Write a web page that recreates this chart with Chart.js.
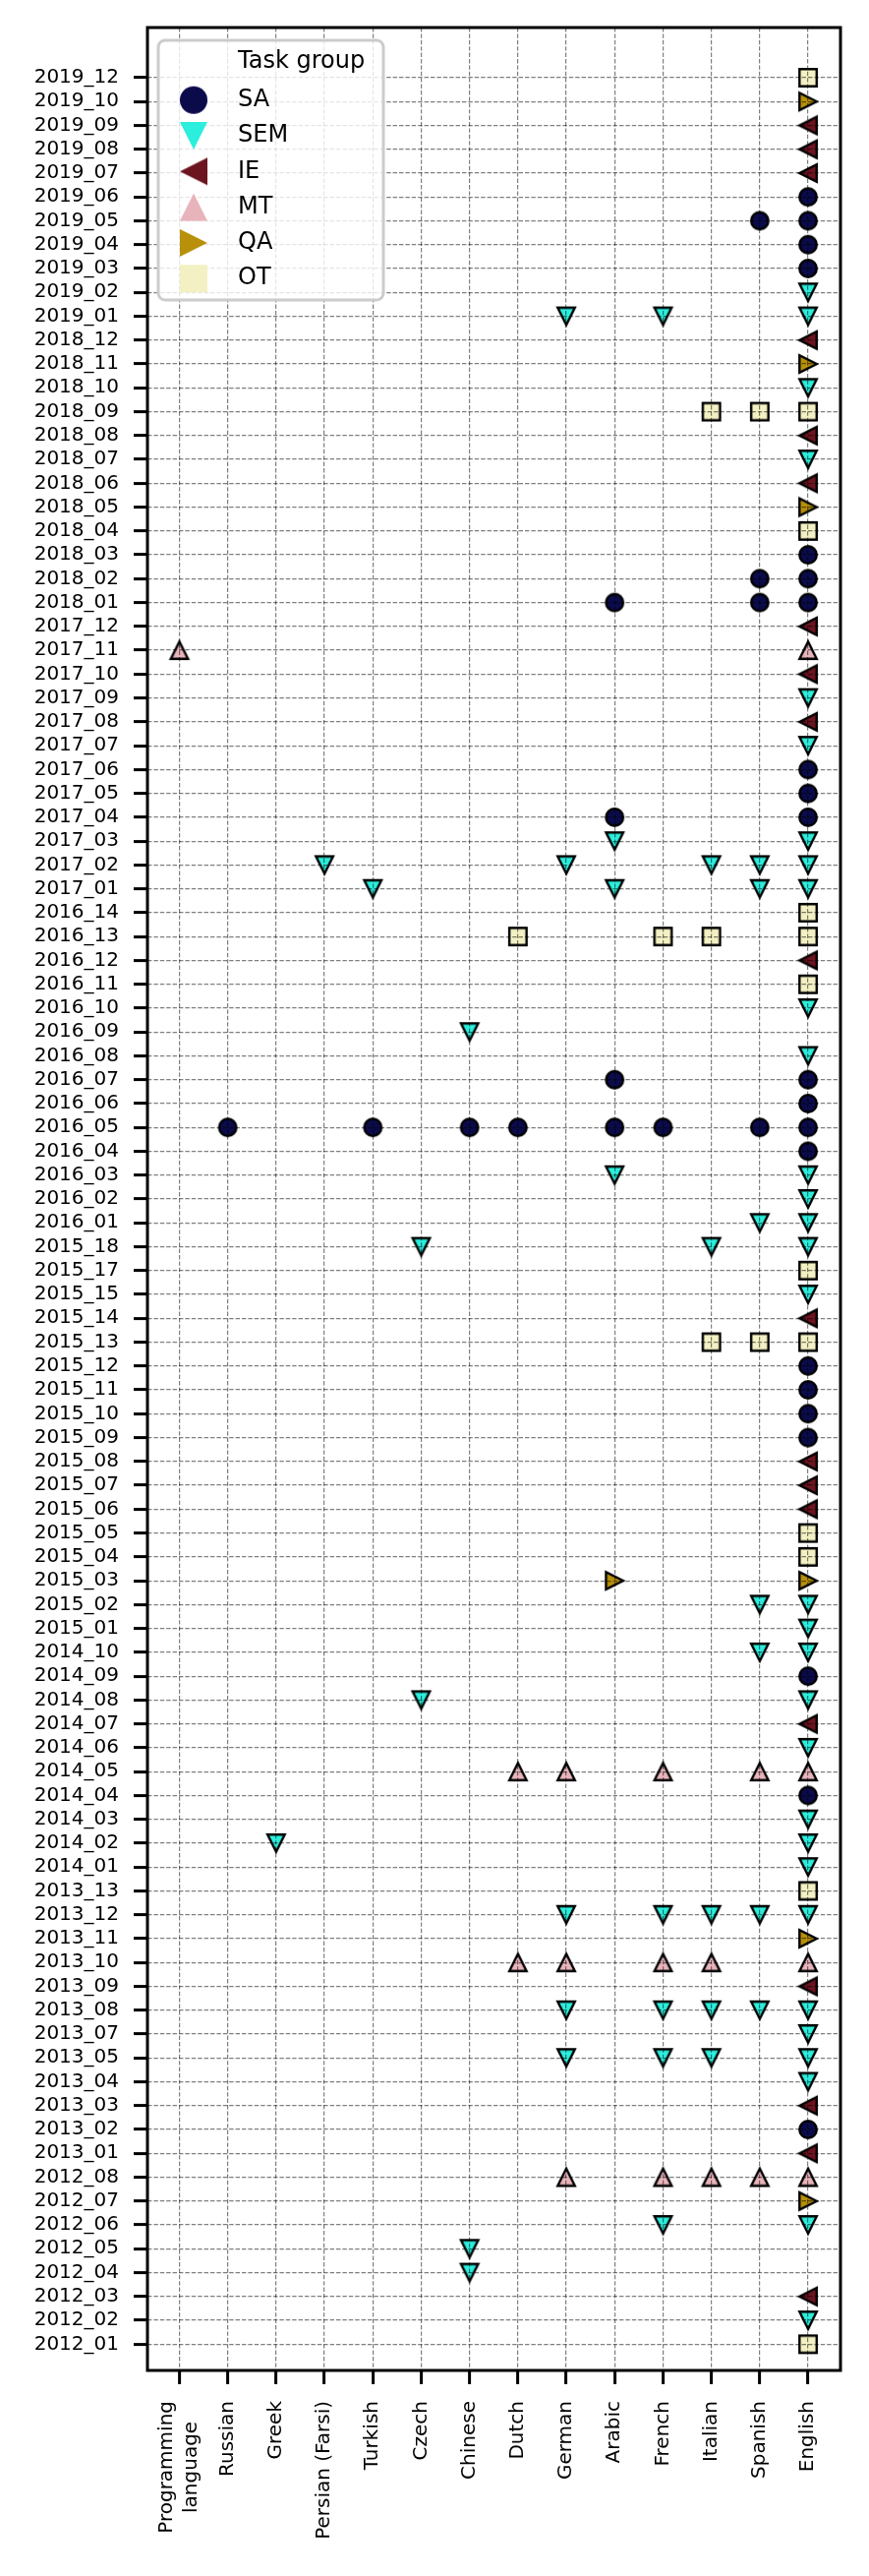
<!DOCTYPE html>
<html>
<head>
<meta charset="utf-8">
<script src="https://cdn.jsdelivr.net/npm/chart.js@4"></script>
<style>
  html, body { margin: 0; padding: 0; background: #fff; }
  #wrap { width: 884px; height: 2619px; position: relative; }
</style>
</head>
<body>
<div id="wrap"><canvas id="myChart"></canvas></div>
<script>
// y categories, listed top to bottom as in the figure
const tasks = [
  '2019_12', '2019_10', '2019_09', '2019_08', '2019_07', '2019_06', '2019_05', '2019_04', '2019_03', '2019_02', '2019_01',
  '2018_12', '2018_11', '2018_10', '2018_09', '2018_08', '2018_07', '2018_06', '2018_05', '2018_04', '2018_03', '2018_02', '2018_01',
  '2017_12', '2017_11', '2017_10', '2017_09', '2017_08', '2017_07', '2017_06', '2017_05', '2017_04', '2017_03', '2017_02', '2017_01',
  '2016_14', '2016_13', '2016_12', '2016_11', '2016_10', '2016_09', '2016_08', '2016_07', '2016_06', '2016_05', '2016_04', '2016_03', '2016_02', '2016_01',
  '2015_18', '2015_17', '2015_15', '2015_14', '2015_13', '2015_12', '2015_11', '2015_10', '2015_09', '2015_08', '2015_07', '2015_06', '2015_05', '2015_04', '2015_03', '2015_02', '2015_01',
  '2014_10', '2014_09', '2014_08', '2014_07', '2014_06', '2014_05', '2014_04', '2014_03', '2014_02', '2014_01',
  '2013_13', '2013_12', '2013_11', '2013_10', '2013_09', '2013_08', '2013_07', '2013_05', '2013_04', '2013_03', '2013_02', '2013_01',
  '2012_08', '2012_07', '2012_06', '2012_05', '2012_04', '2012_03', '2012_02', '2012_01'
];

const languages = ['Programming language', 'Russian', 'Greek', 'Persian (Farsi)', 'Turkish', 'Czech', 'Chinese',
  'Dutch', 'German', 'Arabic', 'French', 'Italian', 'Spanish', 'English'];

const legendTitle = 'Task group';
const groupNames = ['SA', 'SEM', 'IE', 'MT', 'QA', 'OT'];
const groupColors = ['#0b0b4b', '#2ceedd', '#6c1420', '#e8b4bb', '#b8900a', '#f3f1c3'];
const groupShapes = ['circle', 'down', 'left', 'up', 'right', 'square'];

// [task, language] pairs for each task group
const saPoints = [
  ['2019_06', 'English'], ['2019_05', 'Spanish'], ['2019_05', 'English'], ['2019_04', 'English'], ['2019_03', 'English'],
  ['2018_03', 'English'], ['2018_02', 'Spanish'], ['2018_02', 'English'],
  ['2018_01', 'Arabic'], ['2018_01', 'Spanish'], ['2018_01', 'English'],
  ['2017_06', 'English'], ['2017_05', 'English'], ['2017_04', 'Arabic'], ['2017_04', 'English'],
  ['2016_07', 'Arabic'], ['2016_07', 'English'], ['2016_06', 'English'],
  ['2016_05', 'Russian'], ['2016_05', 'Turkish'], ['2016_05', 'Chinese'], ['2016_05', 'Dutch'],
  ['2016_05', 'Arabic'], ['2016_05', 'French'], ['2016_05', 'Spanish'], ['2016_05', 'English'],
  ['2016_04', 'English'], ['2015_12', 'English'], ['2015_11', 'English'], ['2015_10', 'English'], ['2015_09', 'English'],
  ['2014_09', 'English'], ['2014_04', 'English'], ['2013_02', 'English']
];

const semPoints = [
  ['2019_02', 'English'], ['2019_01', 'German'], ['2019_01', 'French'], ['2019_01', 'English'],
  ['2018_10', 'English'], ['2018_07', 'English'], ['2017_09', 'English'], ['2017_07', 'English'],
  ['2017_03', 'Arabic'], ['2017_03', 'English'],
  ['2017_02', 'Persian (Farsi)'], ['2017_02', 'German'], ['2017_02', 'Italian'], ['2017_02', 'Spanish'], ['2017_02', 'English'],
  ['2017_01', 'Turkish'], ['2017_01', 'Arabic'], ['2017_01', 'Spanish'], ['2017_01', 'English'],
  ['2016_10', 'English'], ['2016_09', 'Chinese'], ['2016_08', 'English'],
  ['2016_03', 'Arabic'], ['2016_03', 'English'], ['2016_02', 'English'], ['2016_01', 'Spanish'], ['2016_01', 'English'],
  ['2015_18', 'Czech'], ['2015_18', 'Italian'], ['2015_18', 'English'], ['2015_15', 'English'],
  ['2015_02', 'Spanish'], ['2015_02', 'English'], ['2015_01', 'English'],
  ['2014_10', 'Spanish'], ['2014_10', 'English'], ['2014_08', 'Czech'], ['2014_08', 'English'],
  ['2014_06', 'English'], ['2014_03', 'English'], ['2014_02', 'Greek'], ['2014_02', 'English'], ['2014_01', 'English'],
  ['2013_12', 'German'], ['2013_12', 'French'], ['2013_12', 'Italian'], ['2013_12', 'Spanish'], ['2013_12', 'English'],
  ['2013_08', 'German'], ['2013_08', 'French'], ['2013_08', 'Italian'], ['2013_08', 'Spanish'], ['2013_08', 'English'],
  ['2013_07', 'English'],
  ['2013_05', 'German'], ['2013_05', 'French'], ['2013_05', 'Italian'], ['2013_05', 'English'],
  ['2013_04', 'English'], ['2012_06', 'French'], ['2012_06', 'English'],
  ['2012_05', 'Chinese'], ['2012_04', 'Chinese'], ['2012_02', 'English']
];

const iePoints = [
  ['2019_09', 'English'], ['2019_08', 'English'], ['2019_07', 'English'], ['2018_12', 'English'],
  ['2018_08', 'English'], ['2018_06', 'English'], ['2017_12', 'English'], ['2017_10', 'English'],
  ['2017_08', 'English'], ['2016_12', 'English'], ['2015_14', 'English'], ['2015_08', 'English'],
  ['2015_07', 'English'], ['2015_06', 'English'], ['2014_07', 'English'], ['2013_09', 'English'],
  ['2013_03', 'English'], ['2013_01', 'English'], ['2012_03', 'English']
];

const mtPoints = [
  ['2017_11', 'Programming language'], ['2017_11', 'English'],
  ['2014_05', 'Dutch'], ['2014_05', 'German'], ['2014_05', 'French'], ['2014_05', 'Spanish'], ['2014_05', 'English'],
  ['2013_10', 'Dutch'], ['2013_10', 'German'], ['2013_10', 'French'], ['2013_10', 'Italian'], ['2013_10', 'English'],
  ['2012_08', 'German'], ['2012_08', 'French'], ['2012_08', 'Italian'], ['2012_08', 'Spanish'], ['2012_08', 'English']
];

const qaPoints = [
  ['2019_10', 'English'], ['2018_11', 'English'], ['2018_05', 'English'],
  ['2015_03', 'Arabic'], ['2015_03', 'English'], ['2013_11', 'English'], ['2012_07', 'English']
];

const otPoints = [
  ['2019_12', 'English'], ['2018_09', 'Italian'], ['2018_09', 'Spanish'], ['2018_09', 'English'],
  ['2018_04', 'English'], ['2016_14', 'English'],
  ['2016_13', 'Dutch'], ['2016_13', 'French'], ['2016_13', 'Italian'], ['2016_13', 'English'],
  ['2016_11', 'English'], ['2015_17', 'English'],
  ['2015_13', 'Italian'], ['2015_13', 'Spanish'], ['2015_13', 'English'],
  ['2015_05', 'English'], ['2015_04', 'English'], ['2013_13', 'English'], ['2012_01', 'English']
];

const groupPoints = [saPoints, semPoints, iePoints, mtPoints, qaPoints, otPoints];

// matplotlib-like marker drawn into a small canvas, used as pointStyle
function markerCanvas(shape, size, fill, edge, lw) {
  const pad = Math.ceil(lw * 3) + 2;
  const dim = Math.ceil(size) + 2 * pad;
  const c = document.createElement('canvas');
  c.width = dim;
  c.height = dim;
  const g = c.getContext('2d');
  const m = dim / 2, h = size / 2;
  g.beginPath();
  if (shape === 'circle') {
    g.arc(m, m, h, 0, Math.PI * 2);
  } else if (shape === 'square') {
    g.rect(m - h, m - h, size, size);
  } else {
    const pts = {
      down: [[0, h], [-h, -h], [h, -h]],
      up: [[0, -h], [-h, h], [h, h]],
      left: [[-h, 0], [h, -h], [h, h]],
      right: [[h, 0], [-h, -h], [-h, h]]
    }[shape];
    g.moveTo(m + pts[0][0], m + pts[0][1]);
    g.lineTo(m + pts[1][0], m + pts[1][1]);
    g.lineTo(m + pts[2][0], m + pts[2][1]);
    g.closePath();
  }
  g.fillStyle = fill;
  g.fill();
  if (lw > 0) {
    g.lineWidth = lw;
    g.lineJoin = 'miter';
    g.strokeStyle = edge;
    g.stroke();
  }
  return c;
}

const plotMarkers = groupShapes.map((s, i) => markerCanvas(s, 17.5, groupColors[i], '#000', 2.4));
const legendMarkers = groupShapes.map((s, i) => markerCanvas(s, 28, groupColors[i], '#000', 0));

const yOf = (task) => tasks.length - 1 - tasks.indexOf(task);
const xOf = (lang) => languages.indexOf(lang);

const datasets = groupNames.map((name, i) => ({
  label: name,
  data: groupPoints[i].map(([t, l]) => ({ x: xOf(l), y: yOf(t) })),
  pointStyle: plotMarkers[i],
  pointRadius: 10,
  backgroundColor: groupColors[i],
  borderColor: '#000'
}));

// centre the two-line "Programming / language" tick label on its tick, as matplotlib does
const centerMultiline = {
  id: 'centerMultiline',
  beforeDraw(chart) {
    const scale = chart.scales.x;
    const items = scale.getLabelItems();
    items.forEach((item) => {
      if (!Array.isArray(item.label) || item._centered) return;
      const c = chart.ctx;
      c.save();
      c.font = item.font.string;
      const widest = Math.max(...item.label.map((t) => c.measureText(t).width));
      c.restore();
      const n = item.label.length;
      item.options.translation[0] -= (n - 1) * item.font.lineHeight / 2;
      item.options.translation[1] += widest / 2;
      item.options.textAlign = 'center';
      item._centered = true;
    });
  }
};

// full black frame around the plot area, like matplotlib spines
const frame = {
  id: 'frame',
  afterDraw(chart) {
    const { ctx, chartArea: a } = chart;
    ctx.save();
    ctx.strokeStyle = '#000';
    ctx.lineWidth = 3;
    ctx.strokeRect(a.left, a.top, a.right - a.left, a.bottom - a.top);
    ctx.restore();
  }
};

// legend inside the axes, drawn last so it sits above grid and markers
const legendBox = {
  id: 'legendBox',
  afterDraw(chart) {
    const { ctx, chartArea: a } = chart;
    const x0 = a.left + 11, y0 = a.top + 13, w = 229, h = 264, r = 7;
    ctx.save();
    ctx.beginPath();
    ctx.moveTo(x0 + r, y0);
    ctx.lineTo(x0 + w - r, y0);
    ctx.arcTo(x0 + w, y0, x0 + w, y0 + r, r);
    ctx.lineTo(x0 + w, y0 + h - r);
    ctx.arcTo(x0 + w, y0 + h, x0 + w - r, y0 + h, r);
    ctx.lineTo(x0 + r, y0 + h);
    ctx.arcTo(x0, y0 + h, x0, y0 + h - r, r);
    ctx.lineTo(x0, y0 + r);
    ctx.arcTo(x0, y0, x0 + r, y0, r);
    ctx.closePath();
    ctx.fillStyle = 'rgba(255,255,255,0.8)';
    ctx.fill();
    ctx.strokeStyle = '#cccccc';
    ctx.lineWidth = 3;
    ctx.stroke();

    ctx.font = '24px "DejaVu Sans"';
    ctx.fillStyle = '#000';
    ctx.textAlign = 'left';
    ctx.textBaseline = 'middle';
    const textX = a.left + 92;
    const markX = a.left + 47;
    ctx.fillText(legendTitle, textX, a.top + 35);
    chart.data.datasets.forEach((ds, i) => {
      const y = a.top + 73.7 + i * 36.3;
      const img = legendMarkers[i];
      ctx.drawImage(img, markX - img.width / 2, y - img.height / 2);
      ctx.fillText(ds.label, textX, y);
    });
    ctx.restore();
  }
};

const gridOpts = {
  color: 'rgba(0,0,0,0.5)',
  lineWidth: 1.2,
  z: 1,
  drawTicks: true,
  tickLength: 14,
  tickWidth: 3,
  tickColor: '#000',
  tickBorderDash: []
};

const ctx = document.getElementById('myChart').getContext('2d');
window.chartInstance = new Chart(ctx, {
  type: 'scatter',
  data: { datasets },
  options: {
    responsive: true,
    maintainAspectRatio: false,
    animation: false,
    events: [],
    layout: { padding: { top: 28, right: 29, left: 0, bottom: 0 } },
    plugins: {
      legend: { display: false },
      tooltip: { enabled: false }
    },
    scales: {
      x: {
        type: 'linear',
        position: 'bottom',
        min: -0.66,
        max: 13.67,
        afterBuildTicks: (axis) => { axis.ticks = languages.map((_, i) => ({ value: i })); },
        afterFit: (axis) => { axis.height = 209; },
        grid: gridOpts,
        border: { display: false, dash: [4.4, 2] },
        ticks: {
          autoSkip: false,
          minRotation: 90,
          maxRotation: 90,
          padding: 17,
          color: '#000',
          font: { family: 'DejaVu Sans', size: 20, lineHeight: 1.25 },
          callback: (v) => {
            const name = languages[v];
            return name === 'Programming language' ? ['Programming', 'language'] : name;
          }
        }
      },
      y: {
        type: 'linear',
        min: -1.1,
        max: 97.1,
        afterBuildTicks: (axis) => { axis.ticks = tasks.map((_, i) => ({ value: i })); },
        afterFit: (axis) => { axis.width = 150; },
        grid: gridOpts,
        border: { display: false, dash: [4.4, 2] },
        ticks: {
          autoSkip: false,
          padding: 15,
          color: '#000',
          font: { family: 'DejaVu Sans', size: 20 },
          callback: (v) => tasks[tasks.length - 1 - v]
        }
      }
    }
  },
  plugins: [centerMultiline, frame, legendBox]
});
</script>
</body>
</html>
